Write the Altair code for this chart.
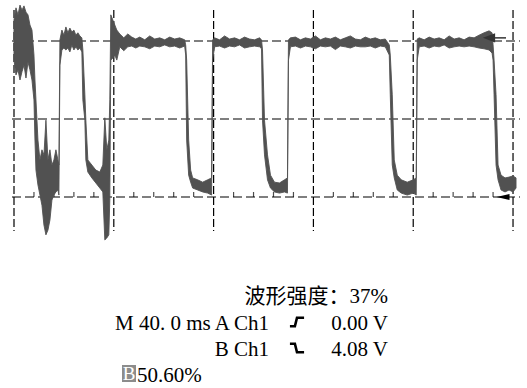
import altair as alt
import pandas as pd

# ---- waveform envelope (time in ms, 40 ms/div; voltage in V, 2 V/div) ----
t_ms = [0.0, 0.8, 1.6, 2.4, 3.2, 4.0, 4.8, 5.6, 6.4, 7.2, 8.0, 8.4, 8.8, 9.6, 10.4, 11.2, 12.0, 12.8, 13.6, 14.4, 15.2, 16.0, 16.8, 17.6, 18.0,
        18.4, 19.2, 20.0, 20.8, 21.6, 22.4, 23.2, 24.0, 24.8, 25.6, 26.4, 27.2,
        27.6, 28.4, 28.8, 29.6, 31.2, 32.8, 34.4, 35.6, 36.4, 37.2, 38.0, 38.4,
        38.8, 39.6, 40.4, 41.2, 42.4, 44.0, 45.6, 47.2, 48.8, 50.4, 52.4, 54.4, 56.4, 58.4, 60.4, 62.4, 64.4, 66.4, 68.4,
        68.8, 69.2, 70.0, 70.8, 71.6, 73.6, 75.6, 77.6, 79.2,
        79.6, 80.4, 82.4, 84.4, 86.4, 88.4, 90.4, 92.4, 94.4, 96.4, 98.4, 99.2,
        99.6, 100.4, 101.6, 102.8, 104.4, 106.4, 108.4, 109.6,
        110.0, 110.8, 112.8, 114.8, 116.8, 118.8, 120.8, 122.8, 124.8, 126.8, 128.8, 130.8, 132.8, 134.8, 136.8, 138.8, 140.8, 142.8, 144.8, 146.8, 148.8,
        150.4, 150.8, 151.6, 152.4, 153.6, 155.2, 157.6, 160.0, 161.2,
        161.6, 162.4, 164.4, 166.4, 168.4, 170.4, 172.4, 174.4, 176.4, 178.4, 180.4, 182.4, 184.4, 186.4, 188.4, 190.4, 191.6,
        192.0, 192.4, 193.2, 194.0, 195.2, 196.8, 198.4, 200.0, 201.2]
v_hi = [4.54, 4.85, 4.67, 4.92, 4.79, 4.90, 4.74, 4.67, 4.41, 4.28, 3.64, 3.00, 2.49, 1.46, 0.95, 1.21, 1.08, 1.97, 0.95, 1.21, 0.82, 0.95, 1.21, 0.95, 0.82,
        4.03, 4.28, 4.15, 4.36, 4.21, 4.33, 4.23, 4.28, 4.15, 4.21, 4.13, 4.08,
        3.77, 2.62, 1.97, 0.95, 0.82, 0.69, 0.64, 0.82, 2.03, 1.21, 1.46, 2.49,
        4.67, 4.54, 4.41, 4.28, 4.18, 4.08, 4.18, 4.10, 4.05, 4.10, 4.03, 4.13, 4.05, 4.08, 4.03, 4.10, 4.05, 4.08, 4.03,
        3.90, 3.51, 1.46, 0.69, 0.49, 0.44, 0.38, 0.44, 0.49,
        4.03, 4.08, 4.03, 4.13, 4.05, 4.08, 4.03, 4.10, 4.05, 4.03, 4.08, 4.03,
        3.77, 1.97, 1.08, 0.56, 0.38, 0.36, 0.44, 0.49,
        4.03, 4.08, 4.10, 4.03, 4.08, 4.05, 4.13, 4.03, 4.08, 4.05, 4.10, 4.03, 4.08, 4.13, 4.05, 4.03, 4.10, 4.05, 4.08, 4.03, 4.05,
        3.90, 3.64, 2.62, 0.95, 0.56, 0.44, 0.38, 0.44, 0.49,
        4.05, 4.08, 4.03, 4.10, 4.05, 4.08, 4.03, 4.13, 4.05, 4.08, 4.03, 4.10, 4.08, 4.15, 4.21, 4.26, 4.21,
        3.90, 3.51, 2.62, 0.82, 0.56, 0.49, 0.51, 0.54, 0.49]
v_lo = [3.51, 3.13, 3.26, 3.00, 3.21, 3.38, 3.05, 3.46, 3.26, 3.00, 2.49, 1.46, 0.69, 0.31, 0.05, -0.21, -0.72, -0.97, -0.85, -0.59, -0.08, 0.05, 0.13, 0.18, 0.05,
        3.38, 3.77, 3.82, 3.77, 3.82, 3.72, 3.90, 3.77, 3.85, 3.77, 3.82, 3.72,
        2.49, 1.97, 0.95, 0.64, 0.49, 0.36, 0.23, 0.13, -1.10, -1.05, -0.97, -0.08,
        3.51, 3.56, 3.64, 3.51, 3.85, 3.75, 3.85, 3.87, 3.82, 3.87, 3.85, 3.80, 3.87, 3.85, 3.90, 3.85, 3.87, 3.82, 3.87,
        3.64, 1.46, 0.56, 0.38, 0.23, 0.18, 0.13, 0.10, 0.05,
        3.51, 3.85, 3.87, 3.82, 3.87, 3.85, 3.90, 3.82, 3.85, 3.87, 3.85, 3.80,
        1.97, 1.08, 0.44, 0.23, 0.13, 0.10, 0.13, 0.10,
        3.51, 3.85, 3.87, 3.82, 3.87, 3.85, 3.80, 3.87, 3.85, 3.87, 3.78, 3.87, 3.85, 3.82, 3.87, 3.85, 3.85, 3.87, 3.82, 3.87, 3.85,
        3.64, 2.62, 0.82, 0.49, 0.18, 0.10, 0.05, 0.10, 0.05,
        3.51, 3.85, 3.87, 3.82, 3.87, 3.85, 3.90, 3.82, 3.85, 3.87, 3.85, 3.87, 3.85, 3.82, 3.80, 3.77, 3.69,
        3.51, 2.62, 0.82, 0.44, 0.18, 0.13, 0.18, 0.13, 0.23]

# ---- graticule ----
major_t = [0, 40, 80, 120, 160, 200]
major_v = [0, 2, 4]
minor_t = [8, 16, 24, 32, 48, 56, 64, 72, 88, 96, 104, 112, 128, 136, 144, 152, 168, 176, 184, 192]

trigger_level_v = [4.08]
ground_level_v = [0.0]

# ---- readout text ----
intensity_label = ["波形强度：37%"]
timebase_label = ["M 40. 0 ms A Ch1"]
trigA_level = ["0.00 V"]
trigB_source = ["B Ch1"]
trigB_level = ["4.08 V"]
pos_box = ["B"]
pos_value = ["50.60%"]

FONT = "Liberation Serif, Noto Sans CJK SC"
TRACE = "#515151"

xs = alt.Scale(domain=[-5.61, 205.6], nice=False, zero=False)
ys = alt.Scale(domain=[-4.897, 5.051], nice=False, zero=False)
X = lambda f: alt.X(f, type="quantitative", scale=xs, axis=None)
Y = lambda f: alt.Y(f, type="quantitative", scale=ys, axis=None)

trace_df = pd.DataFrame({"t": t_ms, "hi": v_hi, "lo": v_lo})

hgrid = alt.Chart(pd.DataFrame({"v": major_v})).mark_rule(
    color="black", strokeWidth=1.2, strokeDash=[9, 4]
).encode(y=Y("v"), x=alt.value(12), x2=alt.value(520))

vgrid = alt.Chart(pd.DataFrame({"t": major_t})).mark_rule(
    color="black", strokeWidth=1.2, strokeDash=[8, 3]
).encode(x=X("t"), y=alt.value(10), y2=alt.value(231))

minor = alt.Chart(pd.DataFrame({"t": minor_t, "v": [0.0] * len(minor_t)})).mark_tick(
    orient="vertical", color="black", size=5, thickness=1.2, yOffset=-2.5
).encode(x=X("t"), y=Y("v"))

trace = alt.Chart(trace_df).mark_area(
    color=TRACE, stroke=TRACE, strokeWidth=0.9, interpolate="linear"
).encode(x=X("t"), y=Y("hi"), y2="lo")

trig_arrow = alt.Chart(pd.DataFrame({"v": trigger_level_v})).mark_point(
    shape="M-1,0L1,-0.75L1,0.75Z", filled=True, color="#333", size=150, opacity=1
).encode(y=Y("v"), x=alt.value(489))
trig_line = alt.Chart(pd.DataFrame({"v": trigger_level_v})).mark_rule(
    color="#333", strokeWidth=1.5
).encode(y=Y("v"), x=alt.value(494), x2=alt.value(506))

gnd_arrow = alt.Chart(pd.DataFrame({"v": ground_level_v})).mark_point(
    shape="M-1,0L1,-0.45L1,0.45Z", filled=True, color="black", size=170, opacity=1
).encode(y=Y("v"), x=alt.value(503))


def txt(values, x, y, align, size=21, color="black"):
    return alt.Chart(pd.DataFrame({"s": values})).mark_text(
        font=FONT, fontSize=size, align=align, baseline="alphabetic", color=color
    ).encode(text="s:N", x=alt.value(x), y=alt.value(y))


rise_icon = alt.Chart(pd.DataFrame({"s": ["rise"]})).mark_point(
    shape="M-1,0.6L-0.3,0.6L0,-0.6L1,-0.6", filled=False, color="black",
    strokeWidth=2.6, size=200, opacity=1
).encode(x=alt.value(297), y=alt.value(322))
fall_icon = alt.Chart(pd.DataFrame({"s": ["fall"]})).mark_point(
    shape="M-1,-0.6L-0.3,-0.6L0,0.6L1,0.6", filled=False, color="black",
    strokeWidth=2.6, size=200, opacity=1
).encode(x=alt.value(297), y=alt.value(348))

box = alt.Chart(pd.DataFrame({"s": pos_box})).mark_rect(color="#8c8c8c").encode(
    x=alt.value(122), x2=alt.value(136), y=alt.value(365), y2=alt.value(382)
)

chart = alt.layer(
    hgrid, vgrid, minor, trace, trig_arrow, trig_line, gnd_arrow,
    txt(intensity_label, 388, 303, "right"),
    txt(timebase_label, 115, 330, "left"),
    rise_icon,
    txt(trigA_level, 388, 330, "right"),
    txt(trigB_source, 269, 356, "right"),
    fall_icon,
    txt(trigB_level, 388, 356, "right"),
    box,
    txt(pos_box, 129, 380, "center", size=19, color="white"),
    txt(pos_value, 137, 382, "left"),
).properties(
    width=527, height=388, padding=0,
    autosize=alt.AutoSizeParams(type="fit", contains="padding"),
    background="white",
).configure_view(stroke=None)

chart.save("out.html", embed_options={"renderer": "svg", "actions": False})
